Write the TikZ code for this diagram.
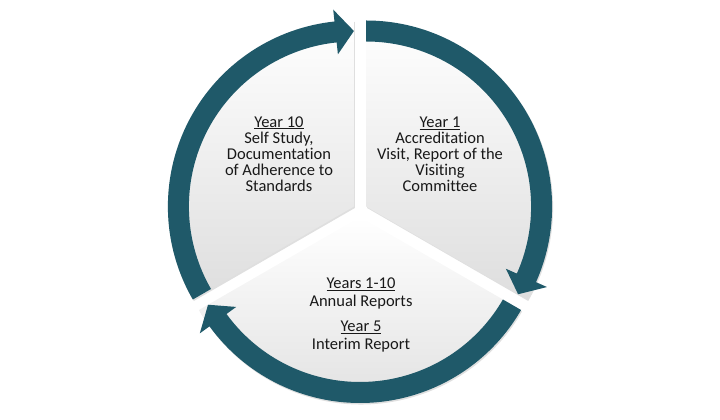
\documentclass[tikz,border=0pt]{standalone}
\usepackage{fontspec}
\setmainfont{Carlito}[Ligatures=NoCommon]
\usetikzlibrary{shadows}
\definecolor{ringteal}{RGB}{31,89,105}

\begin{document}
\begin{tikzpicture}[x=1pt, y=1pt,
    sector/.style={top color=white, bottom color=black!13,
        drop shadow={opacity=0.25, shadow xshift=1pt, shadow yshift=-1.5pt}},
    ring/.style={fill=ringteal},
    stage/.style={align=center, text=black!90, font=\fontsize{16.5}{16.1}\selectfont}]
    \useasboundingbox (0,0) rectangle (720,420);

    % Sector centres {c10, c1, c5}, pushed out from the middle
    \coordinate (c10) at (353.9,213.5);
    \coordinate (c1)  at (366.1,213.5);
    \coordinate (c5)  at (360,203);

    % Year 10 sector with its arrow
    \begin{scope}[shift={(c10)}]
        \path [sector] (0,0) -- (90:186) arc[start angle=90, end angle=210, radius=186] -- cycle;
        \path [ring] (210:186) arc[start angle=210, end angle=96, radius=186] -- (96:198)
            -- (90:175.5) -- (96:153) -- (96:165) arc[start angle=96, end angle=210, radius=165] -- cycle;
    \end{scope}

    % Year 1 sector with its arrow
    \begin{scope}[shift={(c1)}]
        \path [sector] (0,0) -- (90:186) arc[start angle=90, end angle=-30, radius=186] -- cycle;
        \path [ring] (90:186) arc[start angle=90, end angle=-24, radius=186] -- (-24:198)
            -- (-30:175.5) -- (-24:153) -- (-24:165) arc[start angle=-24, end angle=90, radius=165] -- cycle;
    \end{scope}

    % Years 1-10 sector with its arrow
    \begin{scope}[shift={(c5)}]
        \path [sector] (0,0) -- (-30:186) arc[start angle=-30, end angle=-150, radius=186] -- cycle;
        \path [ring] (-30:186) arc[start angle=-30, end angle=-144, radius=186] -- (-144:198)
            -- (-150:175.5) -- (-144:153) -- (-144:165) arc[start angle=-144, end angle=-30, radius=165] -- cycle;
    \end{scope}

    % Labels
    \node [stage] (y10) at (279,266) {\underline{Year 10}\\Self Study,\\Documentation\\of Adherence to\\Standards};
    \node [stage] (y1)  at (440,265.5) {\underline{Year 1}\\Accreditation\\Visit, Report of the\\Visiting\\Committee};
    \node [stage, font=\fontsize{16.5}{18.3}\selectfont] (y5) at (361,105)
        {\underline{Years 1-10}\\Annual Reports\\[6.7pt]\underline{Year 5}\\Interim Report};

\end{tikzpicture}
\end{document}
